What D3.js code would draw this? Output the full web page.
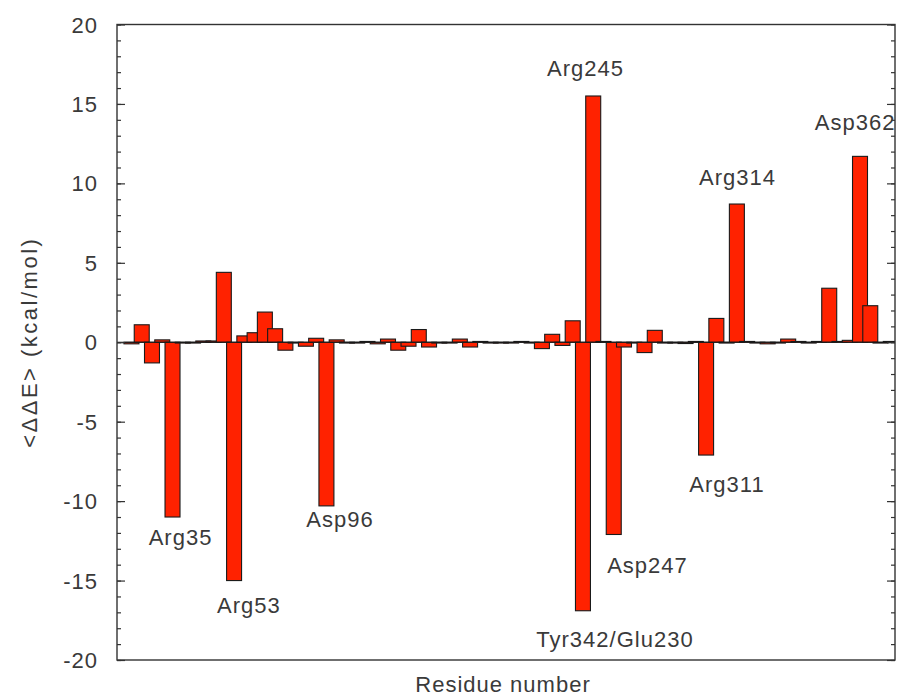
<!DOCTYPE html>
<html>
<head>
<meta charset="utf-8">
<script src="https://cdn.jsdelivr.net/npm/d3@7"></script>
<style>
  body { margin: 0; background: #fff; }
  text { font-family: "Liberation Sans", Arial, sans-serif; fill: #3a3a3a; }
</style>
</head>
<body>
<script>
const w = 897;
const h = 698;

// ----- DATA -----
// one value per residue slot (left to right), <ΔΔE> in kcal/mol
const deltaE = [
  -0.1, 1.1, -1.3, 0.15, -11.0, 0, 0, 0.08, 0.08, 4.4,
  -15.0, 0.4, 0.6, 1.9, 0.85, -0.5, 0, -0.25, 0.25, -10.3,
  0.15, 0, 0, 0.05, -0.1, 0.2, -0.5, -0.25, 0.8, -0.3,
  0, 0, 0.2, -0.3, 0.05, 0, 0, 0, 0.05, 0,
  -0.4, 0.5, -0.2, 1.35, -16.9, 15.5, 0.05, -12.1, -0.3, 0,
  -0.65, 0.75, -0.05, 0, -0.08, 0.05, -7.1, 1.5, 0, 8.7,
  0.05, 0, -0.1, 0, 0.2, 0.05, 0, 0.05, 3.4, 0.05,
  0.12, 11.7, 2.3, 0, 0.05
];

// residue annotations: name, anchor in data units (slot, kcal/mol)
const labelNames = ["Arg35", "Arg53", "Asp96", "Tyr342/Glu230", "Asp247", "Arg311", "Arg245", "Arg314", "Asp362"];
const labelSlot  = [4.78, 11.45, 20.32, 47.12, 50.29, 58.04, 44.25, 59.06, 70.52];
const labelValue = [-12.76, -17.04, -11.63, -19.18, -14.52, -9.43, 16.76, 9.90, 13.36];

const yMajorTicks = [-20, -15, -10, -5, 0, 5, 10, 15, 20];
const yMinorTicks = d3.range(-20, 21, 1);

// ----- SCALES -----
const plot = { left: 117, right: 895, top: 24.5, bottom: 660 };

const x = d3.scaleLinear()
  .domain([-1.41, 74.41])
  .range([plot.left, plot.right]);

const y = d3.scaleLinear()
  .domain([-20, 20])
  .range([plot.bottom, plot.top]);

const boxWidth = 1.46; // in slot units, wider than the spacing, so bars overlap

const svg = d3.select("body").append("svg")
  .attr("width", w)
  .attr("height", h);

svg.append("clipPath").attr("id", "plot-clip")
  .append("rect")
  .attr("x", plot.left).attr("y", plot.top)
  .attr("width", plot.right - plot.left)
  .attr("height", plot.bottom - plot.top);

// ----- BARS -----
svg.append("g")
  .attr("clip-path", "url(#plot-clip)")
  .selectAll("rect")
  .data(deltaE)
  .enter()
  .append("rect")
  .attr("x", (d, i) => x(i - boxWidth / 2))
  .attr("width", (d, i) => x(i + boxWidth / 2) - x(i - boxWidth / 2))
  .attr("y", d => y(Math.max(d, 0)))
  .attr("height", d => Math.max(Math.abs(y(d) - y(0)), 0.8))
  .attr("fill", "#ff2200")
  .attr("stroke", "#1a1a1a")
  .attr("stroke-width", 1.1);

// zero line
svg.append("line")
  .attr("x1", plot.left).attr("x2", plot.right)
  .attr("y1", y(0)).attr("y2", y(0))
  .attr("stroke", "#1a1a1a")
  .attr("stroke-width", 1.2);

// ----- AXES -----
const leftMinor = d3.axisRight(y).tickValues(yMinorTicks).tickSize(4).tickFormat("");
const leftMajor = d3.axisRight(y).tickValues(yMajorTicks).tickSize(8).tickFormat("");
const rightMinor = d3.axisLeft(y).tickValues(yMinorTicks).tickSize(4).tickFormat("");
const rightMajor = d3.axisLeft(y).tickValues(yMajorTicks).tickSize(8).tickFormat("");

[[leftMinor, plot.left], [leftMajor, plot.left], [rightMinor, plot.right], [rightMajor, plot.right]]
  .forEach(([ax, px]) => {
    const g = svg.append("g")
      .attr("transform", "translate(" + px + ",0)")
      .call(ax);
    g.select(".domain").remove();
    g.selectAll("line").attr("stroke", "#333").attr("stroke-width", 1.2);
  });

// tick labels
svg.append("g")
  .selectAll("text")
  .data(yMajorTicks)
  .enter()
  .append("text")
  .attr("x", 98)
  .attr("y", d => y(d) + 8)
  .attr("text-anchor", "end")
  .style("font-size", "22px")
  .style("letter-spacing", "1px")
  .text(d => d);

// frame
svg.append("rect")
  .attr("x", plot.left).attr("y", plot.top)
  .attr("width", plot.right - plot.left)
  .attr("height", plot.bottom - plot.top)
  .attr("fill", "none")
  .attr("stroke", "#333")
  .attr("stroke-width", 1.4);

// ----- LABELS -----
svg.append("g")
  .selectAll("text")
  .data(labelNames)
  .enter()
  .append("text")
  .attr("x", (d, i) => x(labelSlot[i]))
  .attr("y", (d, i) => y(labelValue[i]))
  .attr("text-anchor", "middle")
  .style("font-size", "22px")
  .style("letter-spacing", "1px")
  .text(d => d);

svg.append("text")
  .attr("x", (plot.left + plot.right) / 2 - 3)
  .attr("y", 692)
  .attr("text-anchor", "middle")
  .style("font-size", "22px")
  .style("letter-spacing", "1px")
  .text("Residue number");

svg.append("text")
  .attr("transform", "translate(37," + y(0) + ") rotate(-90)")
  .attr("text-anchor", "middle")
  .style("font-size", "22px")
  .style("letter-spacing", "2.5px")
  .text("<ΔΔE> (kcal/mol)");
</script>
</body>
</html>
